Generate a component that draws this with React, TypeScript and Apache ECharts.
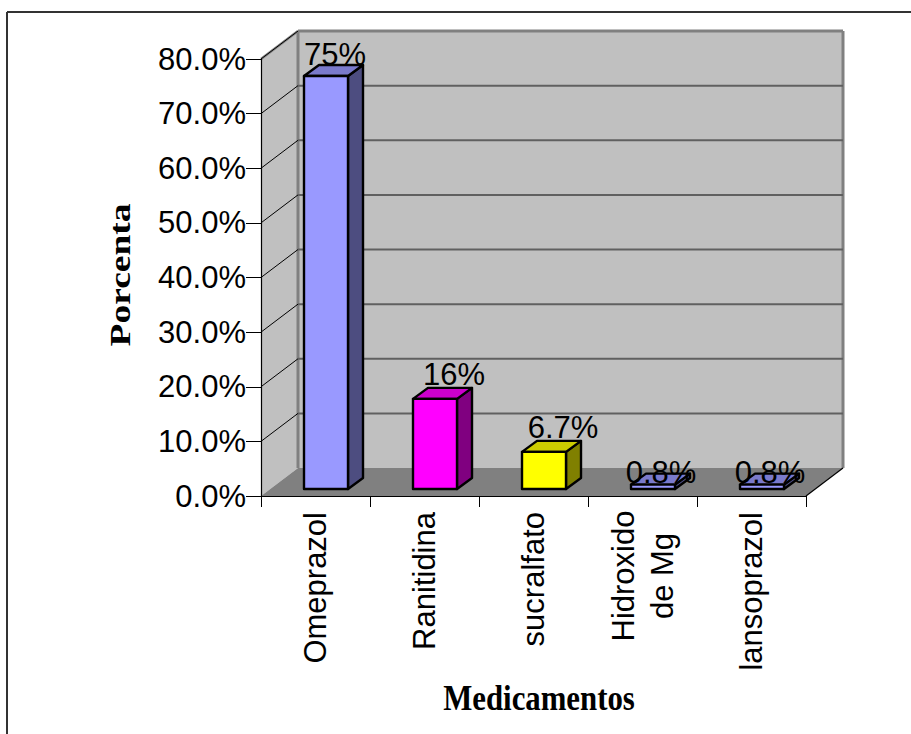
import React, { useEffect, useRef } from "react";
import * as echarts from "echarts";

const categories = ["Omeprazol", "Ranitidina", "sucralfato", "Hidroxido\nde Mg", "lansoprazol"];
const percentValues = [75.6, 16.5, 6.8, 0.8, 0.8];
const dataLabels = ["75%", "16%", "6.7%", "0.8%", "0.8%"];
const yTicks = [0, 10, 20, 30, 40, 50, 60, 70, 80];

const frontColors = ["#9999ff", "#ff00ff", "#ffff00", "#9999ff", "#9999ff"];
const topColors = ["#7a7acc", "#cc00cc", "#cccc00", "#7a7acc", "#7a7acc"];
const sideColors = ["#4d4d80", "#800080", "#808000", "#4d4d80", "#4d4d80"];
const labelShiftX = [9, 19, 19, 8, 8];
const labelShiftY = [-22, -24, -24, -12, -12];

const WALL_DX = 37;
const WALL_DY = -28;
const BAR_DX = 15;
const BAR_DY = -11;
const BAR_W = 44;
const BAR_SHIFT_X = 10.5;
const BAR_SHIFT_Y = -7;
const SANS = '"Liberation Sans", Arial, sans-serif';
const SERIF = '"Liberation Serif", "Times New Roman", serif';

function poly(points: number[][], fill: string, stroke?: string, lineWidth = 0) {
  return {
    type: "polygon",
    shape: { points },
    style: { fill, stroke: stroke || "none", lineWidth, lineJoin: "round" },
  };
}
function seg(a: number[], b: number[], stroke: string, lineWidth: number) {
  return {
    type: "line",
    shape: { x1: a[0], y1: a[1], x2: b[0], y2: b[1] },
    style: { stroke, lineWidth },
  };
}

function renderWalls(_: any, api: any) {
  const band = api.size([1, 0])[0];
  const first = api.coord([0, 0]);
  const last = api.coord([categories.length - 1, 0]);
  const top = api.coord([0, 80]);
  const L = first[0] - band / 2;
  const R = last[0] + band / 2;
  const y0 = first[1];
  const y1 = top[1];
  const gray = "#808080";
  return {
    type: "group",
    children: [
      poly([[L + WALL_DX, y1 + WALL_DY], [R + WALL_DX, y1 + WALL_DY], [R + WALL_DX, y0 + WALL_DY], [L + WALL_DX, y0 + WALL_DY]], "#c0c0c0"),
      poly([[L, y1], [L + WALL_DX, y1 + WALL_DY], [L + WALL_DX, y0 + WALL_DY], [L, y0]], "#c0c0c0"),
      poly([[L, y0], [L + WALL_DX, y0 + WALL_DY], [R + WALL_DX, y0 + WALL_DY], [R, y0]], gray),
      seg([L, y1], [L + WALL_DX, y1 + WALL_DY], gray, 2.5),
      seg([L + WALL_DX, y1 + WALL_DY], [R + WALL_DX, y1 + WALL_DY], gray, 3),
      seg([R + WALL_DX, y1 + WALL_DY], [R + WALL_DX, y0 + WALL_DY], gray, 3),
      seg([L + WALL_DX, y1 + WALL_DY], [L + WALL_DX, y0 + WALL_DY], gray, 3),
      seg([R, y0], [R + WALL_DX, y0 + WALL_DY], "#000000", 1.2),
    ],
  };
}

function renderGrid(_: any, api: any) {
  const v = api.value(1);
  const band = api.size([1, 0])[0];
  const p = api.coord([0, v]);
  const last = api.coord([categories.length - 1, v]);
  const L = p[0] - band / 2;
  const R = last[0] + band / 2;
  const y = p[1];
  const children: any[] = [];
  if (v > 0) {
    children.push(seg([L, y], [L + WALL_DX, y + WALL_DY], "#000000", 1));
    if (v < 80) children.push(seg([L + WALL_DX, y + WALL_DY], [R + WALL_DX, y + WALL_DY], "#606060", 2));
  }
  return { type: "group", children };
}

function renderBar(params: any, api: any) {
  const i = params.dataIndex;
  const base = api.coord([i, 0]);
  const tip = api.coord([i, api.value(1)]);
  const x0 = base[0] + BAR_SHIFT_X - BAR_W / 2;
  const x1 = x0 + BAR_W;
  const yb = base[1] + BAR_SHIFT_Y;
  const yt = tip[1] + BAR_SHIFT_Y;
  const stroke = "#000000";
  const lw = 2.4;
  return {
    type: "group",
    children: [
      poly([[x1, yb], [x1 + BAR_DX, yb + BAR_DY], [x1 + BAR_DX, yt + BAR_DY], [x1, yt]], sideColors[i], stroke, lw),
      poly([[x0, yt], [x0 + BAR_DX, yt + BAR_DY], [x1 + BAR_DX, yt + BAR_DY], [x1, yt]], topColors[i], stroke, lw),
      poly([[x0, yb], [x1, yb], [x1, yt], [x0, yt]], frontColors[i], stroke, lw),
      {
        type: "text",
        x: (x0 + x1) / 2 + labelShiftX[i],
        y: yt + labelShiftY[i],
        style: {
          text: dataLabels[i],
          fill: "#000000",
          font: `31px ${SANS}`,
          textAlign: "center",
          textVerticalAlign: "middle",
        },
      },
    ],
  };
}

export default function App() {
  const ref = useRef<HTMLDivElement>(null);
  useEffect(() => {
    const chart = echarts.init(ref.current!, null, { renderer: "svg" });
    chart.setOption({
      animation: false,
      backgroundColor: "#ffffff",
      grid: { left: 261, top: 59, width: 545, height: 437 },
      xAxis: {
        type: "category",
        z: 10,
        data: categories.map((c) =>
          c.includes("\n") ? { value: c, textStyle: { align: "center", padding: [0, 128, 0, 0] } } : c
        ),
        axisLine: { show: true, lineStyle: { color: "#000000", width: 1.2 } },
        axisTick: { show: true, length: 11, lineStyle: { color: "#000000", width: 1 } },
        axisLabel: {
          interval: 0,
          rotate: 90,
          margin: 16,
          color: "#000000",
          fontFamily: SANS,
          fontSize: 31,
          lineHeight: 39,
          hideOverlap: false,
        },
      },
      yAxis: {
        type: "value",
        z: 10,
        min: 0,
        max: 80,
        interval: 10,
        splitLine: { show: false },
        axisLine: { show: true, lineStyle: { color: "#000000", width: 1.2 } },
        axisTick: { show: true, length: 15, lineStyle: { color: "#000000", width: 1 } },
        axisLabel: {
          margin: 15,
          color: "#000000",
          fontFamily: SANS,
          fontSize: 31,
          formatter: (v: number) => `${v.toFixed(1)}%`,
        },
      },
      series: [
        { type: "custom", z: 1, clip: false, silent: true, renderItem: renderWalls, data: [[0, 0]], encode: { x: 0, y: 1 } },
        { type: "custom", z: 2, clip: false, silent: true, renderItem: renderGrid, data: yTicks.map((t) => [0, t]), encode: { x: 0, y: 1 } },
        { type: "custom", z: 3, clip: false, renderItem: renderBar, data: percentValues.map((v, i) => [i, v]), encode: { x: 0, y: 1 } },
      ],
      graphic: [
        { type: "line", silent: true, shape: { x1: 7, y1: 12, x2: 911, y2: 12 }, style: { stroke: "#333333", lineWidth: 2 } },
        { type: "line", silent: true, shape: { x1: 7, y1: 12, x2: 7, y2: 734 }, style: { stroke: "#333333", lineWidth: 2 } },
        {
          type: "text",
          x: 120,
          y: 275,
          rotation: Math.PI / 2,
          scaleX: 1.25,
          style: { text: "Porcenta", fill: "#000000", font: `bold 30px ${SERIF}`, textAlign: "center", textVerticalAlign: "middle" },
        },
        {
          type: "text",
          x: 539,
          y: 698,
          scaleX: 0.88,
          style: { text: "Medicamentos", fill: "#000000", font: `bold 35px ${SERIF}`, textAlign: "center", textVerticalAlign: "middle" },
        },
      ],
    });
    return () => chart.dispose();
  }, []);
  return <div ref={ref} style={{ position: "absolute", left: 0, top: 0, width: 911, height: 734 }} />;
}
